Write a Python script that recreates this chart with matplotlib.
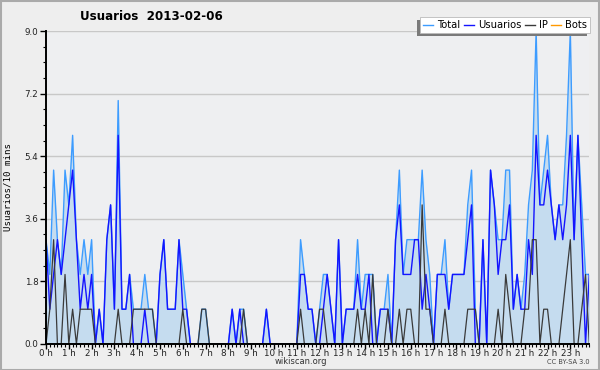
import matplotlib
matplotlib.use("Agg")
import matplotlib.pyplot as plt
from matplotlib.lines import Line2D
import numpy as np

# 10-minute slots (144 per day)
total = [3, 2, 5, 3, 2, 5, 4, 6, 3, 2, 3, 2, 3, 0, 1, 0, 3, 4, 1, 7,
         1, 1, 2, 1, 1, 1, 2, 1, 1, 0, 2, 3, 1, 1, 1, 3, 2, 1, 0, 0,
         0, 1, 1, 0, 0, 0, 0, 0, 0, 1, 0, 1, 1, 0, 0, 0, 0, 0, 1, 0,
         0, 0, 0, 0, 0, 0, 0, 3, 2, 1, 1, 0, 1, 2, 2, 1, 0, 3, 0, 1,
         1, 1, 3, 1, 2, 2, 2, 0, 1, 1, 2, 0, 3, 5, 2, 3, 3, 3, 3, 5,
         3, 2, 0, 2, 2, 3, 1, 2, 2, 2, 2, 4, 5, 1, 0, 3, 0, 5, 4, 3,
         3, 5, 5, 1, 2, 1, 2, 4, 5, 9, 4, 5, 6, 4, 3, 4, 4, 6, 9, 3,
         6, 4, 2, 2]
usuarios = [3, 1, 2, 3, 2, 3, 4, 5, 3, 1, 2, 1, 2, 0, 1, 0, 3, 4, 1, 6,
            1, 1, 2, 0, 0, 0, 1, 0, 0, 0, 2, 3, 1, 1, 1, 3, 1, 1, 0, 0,
            0, 0, 0, 0, 0, 0, 0, 0, 0, 1, 0, 1, 0, 0, 0, 0, 0, 0, 1, 0,
            0, 0, 0, 0, 0, 0, 0, 2, 2, 1, 1, 0, 0, 1, 2, 1, 0, 3, 0, 1,
            1, 1, 2, 1, 1, 2, 0, 0, 1, 1, 1, 0, 3, 4, 2, 2, 2, 3, 3, 1,
            2, 1, 0, 2, 2, 2, 1, 2, 2, 2, 2, 3, 4, 0, 0, 3, 0, 5, 4, 2,
            3, 3, 4, 1, 2, 1, 1, 3, 2, 6, 4, 4, 5, 4, 3, 4, 3, 4, 6, 3,
            6, 3, 0, 2]
ip = [0, 1, 3, 0, 0, 2, 0, 1, 0, 1, 1, 1, 1, 0, 0, 0, 0, 0, 0, 1,
      0, 0, 0, 1, 1, 1, 1, 1, 1, 0, 0, 0, 0, 0, 0, 0, 1, 0, 0, 0,
      0, 1, 1, 0, 0, 0, 0, 0, 0, 0, 0, 0, 1, 0, 0, 0, 0, 0, 0, 0,
      0, 0, 0, 0, 0, 0, 0, 1, 0, 0, 0, 0, 1, 1, 0, 0, 0, 0, 0, 0,
      0, 0, 1, 0, 1, 0, 2, 0, 0, 0, 1, 0, 0, 1, 0, 1, 1, 0, 0, 4,
      1, 1, 0, 0, 0, 1, 0, 0, 0, 0, 0, 1, 1, 1, 0, 0, 0, 0, 0, 1,
      0, 2, 1, 0, 0, 0, 1, 1, 3, 3, 0, 1, 1, 0, 0, 0, 1, 2, 3, 0,
      0, 1, 2, 0]
bots = [0] * 144
hour_labels = [f"{h} h" for h in range(24)]
yticks = [0.0, 1.8, 3.6, 5.4, 7.2, 9.0]

x = np.arange(len(total))

W, H = 600, 370
fig = plt.figure(figsize=(6.0, 3.7), dpi=100, facecolor="#eeeeee")
ax = fig.add_axes([0.0767, 0.0703, 0.9055, 0.8459])
ax.set_facecolor("#eeeff1")

c_total = "#3d9cff"
c_user = "#1414ff"
c_ip = "#3a3a3a"
c_bots = "#ff9900"

ax.fill_between(x, total, 0, color="#c5dcef", linewidth=0, zorder=1)
ax.plot(x, total, color=c_total, lw=1.0, zorder=3)
ax.plot(x, usuarios, color=c_user, lw=1.0, zorder=4)
ax.plot(x, ip, color=c_ip, lw=0.9, zorder=5)
ax.plot(x, bots, color=c_bots, lw=0.9, zorder=2)

ax.set_xlim(0, 143)
ax.set_ylim(0, 9)

ax.set_yticks(yticks)
ax.set_yticklabels([f"{v:.1f}" for v in yticks])
ax.set_yticks(np.arange(0, 9.01, 0.45), minor=True)
ax.set_xticks(np.arange(0, 144, 6))
ax.set_xticklabels(hour_labels)
ax.set_xticks(np.arange(0, 144, 1), minor=True)

ax.grid(axis="y", which="major", color="#c8c8c8", lw=1.0, zorder=0)
ax.set_axisbelow(True)

for s in ["top", "right"]:
    ax.spines[s].set_visible(False)
for s in ["left", "bottom"]:
    ax.spines[s].set_linewidth(1.4)
    ax.spines[s].set_color("black")
    ax.spines[s].set_zorder(10)

ax.tick_params(axis="y", which="major", length=4, width=1.0, labelsize=6.3,
               pad=1.5, colors="black")
ax.tick_params(axis="x", which="major", length=3.5, width=1.0, labelsize=6.3,
               pad=0.2, colors="black")
ax.tick_params(axis="both", which="minor", length=2.5, width=0.8)
for lab in ax.get_xticklabels() + ax.get_yticklabels():
    lab.set_color("#222222")

ax.set_ylabel("Usuarios/10 mins", fontsize=6.6, family="DejaVu Sans Mono")
ax.yaxis.set_label_coords(-0.062, 0.5)

fig.text(0.252, 0.955, "Usuarios  2013-02-06", ha="center", va="center",
         fontsize=8.6, fontweight="bold")

handles = [Line2D([], [], color=c_total, lw=1),
           Line2D([], [], color=c_user, lw=1),
           Line2D([], [], color=c_ip, lw=1),
           Line2D([], [], color=c_bots, lw=1)]
leg = fig.legend(handles, ["Total", "Usuarios", "IP", "Bots"], ncol=4,
                 loc="upper right", bbox_to_anchor=(590 / W, 1 - 17 / H),
                 fontsize=7.2, frameon=True, fancybox=False,
                 handlelength=1.0, handletextpad=0.4, columnspacing=0.35,
                 borderpad=0.3, borderaxespad=0)
leg.set_zorder(6)
leg.get_frame().set_edgecolor("#bbbbbb")
leg.get_frame().set_linewidth(0.6)
leg.get_frame().set_facecolor("white")
leg.get_frame().set_alpha(1.0)

# legend shadow offset to the lower-left, sized from the drawn legend
fig.canvas.draw()
bb = leg.get_window_extent().transformed(fig.transFigure.inverted())
shadow = plt.Rectangle((bb.x0 - 3 / W, bb.y0 - 3 / H), bb.width, bb.height,
                       transform=fig.transFigure, facecolor="#7a7a7a",
                       edgecolor="none", zorder=4)
fig.patches.append(shadow)

fig.text(0.502, 1 - 361.5 / H, "wikiscan.org", ha="center", va="center",
         fontsize=6.0, color="#333333")
fig.text(0.982, 1 - 362.5 / H, "CC BY-SA 3.0", ha="right", va="center",
         fontsize=4.8, color="#444444")

border = plt.Rectangle((0.001, 0.001), 0.997, 0.996, transform=fig.transFigure,
                       fill=False, edgecolor="#aaaaaa", lw=1.5)
fig.patches.append(border)

fig.savefig("out.png", dpi=100, facecolor=fig.get_facecolor())
